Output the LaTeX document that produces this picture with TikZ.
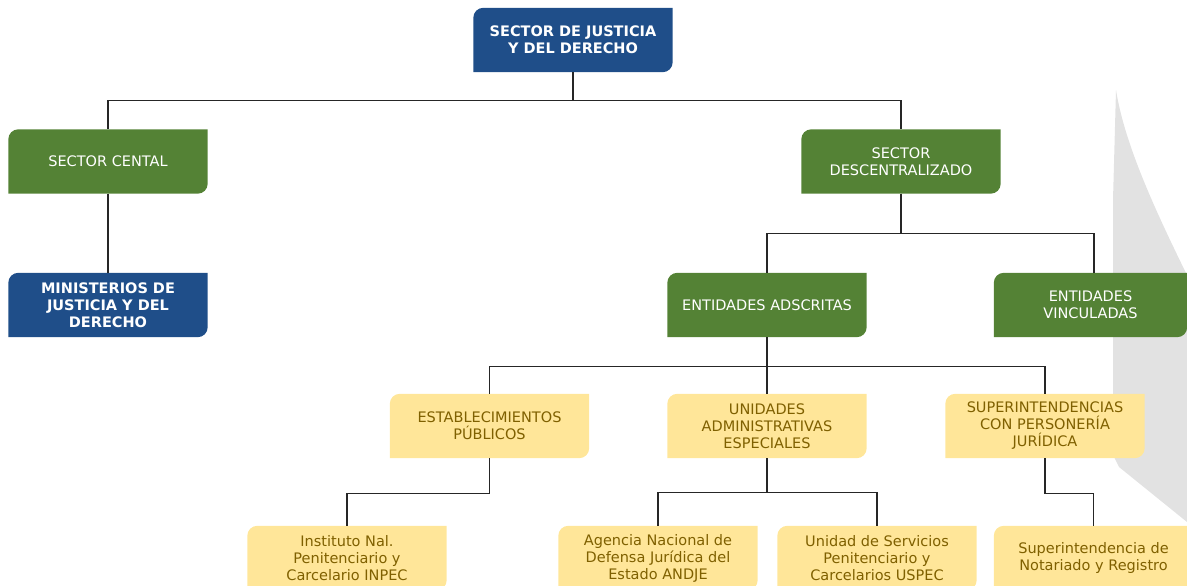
\documentclass[tikz,border=0pt]{standalone}
\usepackage{fontspec}
\setmainfont{DejaVu Sans}
\usepackage{tikz}
\usetikzlibrary{math}
\usetikzlibrary{backgrounds}

\definecolor{jusblue}{HTML}{1F4E89}
\definecolor{jusgreen}{HTML}{548235}
\definecolor{jusgold}{HTML}{FFE699}
\definecolor{jusbrown}{HTML}{7F6000}
\definecolor{jusline}{HTML}{262626}
\definecolor{swoosh}{HTML}{E2E2E2}

\begin{document}
\begin{tikzpicture}[x=1pt, y=-1pt,
    orgbox/.style={minimum width=199pt, minimum height=64pt, inner sep=0pt,
      align=center, font=\fontsize{14.5}{17}\selectfont},
    bluebox/.style={orgbox, text=white, font=\fontsize{14.5}{17}\selectfont\bfseries},
    greenbox/.style={orgbox, text=white},
    goldbox/.style={orgbox, text=jusbrown},
    link/.style={draw=jusline, line width=1.2pt}]
          \tikzmath{
            \r=10;
            \down=28;
            \fork=34;}
          \useasboundingbox (0,0) rectangle (1187,586);
          \node[bluebox] (top) at (573,40) {SECTOR DE JUSTICIA\\Y DEL DERECHO};
          \node[greenbox] (central) at (108,161.5) {SECTOR CENTAL};
          \node[bluebox] (minist) at (108,305) {MINISTERIOS DE\\JUSTICIA Y DEL\\DERECHO};
          \node[greenbox] (descen) at (901,161.5) {SECTOR\\DESCENTRALIZADO};
          \node[greenbox] (adscr) at (767,305) {ENTIDADES ADSCRITAS};
          \node[greenbox, minimum width=193pt] (vincul) at (1090.5,305) {ENTIDADES\\VINCULADAS};
          \node[goldbox] (estab) at (489.5,426) {ESTABLECIMIENTOS\\PÚBLICOS};
          \node[goldbox] (uae) at (767,426) {UNIDADES\\ADMINISTRATIVAS\\ESPECIALES};
          \node[goldbox] (superint) at (1045,426) {SUPERINTENDENCIAS\\CON PERSONERÍA\\JURÍDICA};
          \node[goldbox] (inpec) at (347,558) {Instituto Nal.\\Penitenciario y\\Carcelario INPEC};
          \node[goldbox] (andje) at (658,558) {Agencia Nacional de\\Defensa Jurídica del\\Estado ANDJE};
          \node[goldbox] (uspec) at (877,558) {Unidad de Servicios\\Penitenciario y\\Carcelarios USPEC};
          \node[goldbox] (notar) at (1093.5,558) {Superintendencia de\\Notariado y Registro};
          % fills behind the texts
          \begin{scope}[on background layer]
            \fill[swoosh] (1116,90) .. controls (1124,140) and (1150,200) .. (1187,275)
              -- (1187,522) -- (1119,467) -- (1113,455) -- (1113,200) -- cycle;
            \foreach \b/\c in {top/jusblue, central/jusgreen, minist/jusblue,
                descen/jusgreen, adscr/jusgreen, vincul/jusgreen,
                estab/jusgold, uae/jusgold, superint/jusgold,
                inpec/jusgold, andje/jusgold, uspec/jusgold, notar/jusgold}
              \fill[\c] (\b.south west) -- ([yshift=-\r pt]\b.north west)
                arc[start angle=180, end angle=90, radius=\r pt] -- (\b.north east)
                -- ([yshift=\r pt]\b.south east)
                arc[start angle=0, end angle=-90, radius=\r pt] -- cycle;
          \end{scope}
          \draw[link] (top.south) -- ++(0,\down) -| (central.north);
          \draw[link] (top.south) -- ++(0,\down) -| (descen.north);
          \draw[link] (central) -- (minist);
          \draw[link] (descen.south) -- ++(0,40) -| ([xshift=3.5pt]vincul.north);
          \draw[link] (descen.south) -- ++(0,40) -| (adscr.north);
          \draw[link] (adscr.south) -- ++(0,29) -| (estab.north);
          \draw[link] (adscr.south) -- ++(0,29) -| (superint.north);
          \draw[link] (adscr) -- (uae);
          \draw[link] (estab.south) -- ++(0,\fork+1) -| (inpec.north);
          \draw[link] (uae.south) -- ++(0,\fork) -| (andje.north);
          \draw[link] (uae.south) -- ++(0,\fork) -| (uspec.north);
          \draw[link] (superint.south) -- ++(0,\fork+1) -| (notar.north);
        \end{tikzpicture}
\end{document}
